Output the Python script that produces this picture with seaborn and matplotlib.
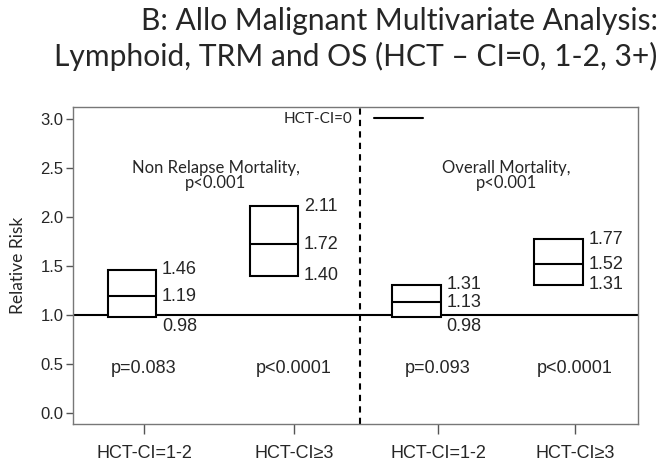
import numpy as np
import pandas as pd
import matplotlib
matplotlib.use('Agg')
import matplotlib.pyplot as plt
import seaborn as sns

# Relative risk (low CI, estimate, high CI) vs HCT-CI=0
groups = ['NRM 1-2', 'NRM 3+', 'OM 1-2', 'OM 3+']
rr_low = [0.98, 1.40, 0.98, 1.31]
rr_mid = [1.19, 1.72, 1.13, 1.52]
rr_high = [1.46, 2.11, 1.31, 1.77]
p_labels = ['p=0.083', 'p<0.0001', 'p=0.093', 'p<0.0001']
tick_labels = ['HCT-CI=1-2', 'HCT-CI\u22653', 'HCT-CI=1-2', 'HCT-CI\u22653']
panel_labels = ['Non Relapse Mortality,\np<0.001', 'Overall Mortality,\np<0.001']

# layout only (category units)
tick_pos = [0.084, 1.139, 2.152, 3.115]
panel_x = [0.59, 2.63]
split_x = 1.603

sns.set_style('ticks')
arial = ['Liberation Sans', 'DejaVu Sans']
calibri = ['Lato', 'DejaVu Sans']

# 5 points per group -> q1=low, median=mid, q3=high
rows = []
for g, lo, mid, hi in zip(groups, rr_low, rr_mid, rr_high):
    for v in [lo, lo, mid, hi, hi]:
        rows.append({'group': g, 'rr': v})
df = pd.DataFrame(rows)

fig = plt.figure(figsize=(6.71, 4.66), dpi=100)
ax = fig.add_axes([0.1088, 0.0901, 0.842, 0.6803])

ref = ax.axhline(1.0, color='black', lw=1.5, zorder=1, label='HCT-CI=0')
sns.boxplot(data=df, x='group', y='rr', order=groups, whis=0, width=0.34,
            color='white', linecolor='black', linewidth=1.5,
            showfliers=False, showcaps=False, ax=ax)
ax.axvline(split_x, color='black', lw=1.5, dashes=(3, 2.5))

for i in range(len(groups)):
    ax.text(i + 0.21, rr_high[i], f'{rr_high[i]:.2f}', ha='left', va='center', fontsize=13, family=arial)
    ax.text(i + 0.21, rr_mid[i], f'{rr_mid[i]:.2f}', ha='left', va='center', fontsize=13, family=arial)
    if rr_low[i] < 1.0:
        ax.text(i + 0.21, rr_low[i] - 0.01, f'{rr_low[i]:.2f}', ha='left', va='top', fontsize=13, family=arial)
    else:
        ax.text(i + 0.21, rr_low[i], f'{rr_low[i]:.2f}', ha='left', va='center', fontsize=13, family=arial)
    ax.text(tick_pos[i], 0.46, p_labels[i], ha='center', va='center', fontsize=13, family=arial)

for x, lab in zip(panel_x, panel_labels):
    ax.text(x, 2.42, lab, ha='center', va='center', fontsize=12, family=calibri, linespacing=0.95)

ax.set_xlim(-0.415, 3.558)
ax.set_ylim(-0.11, 3.12)
ax.set_yticks([0.0, 0.5, 1.0, 1.5, 2.0, 2.5, 3.0])
ax.set_yticklabels([f'{v:.1f}' for v in [0.0, 0.5, 1.0, 1.5, 2.0, 2.5, 3.0]], fontsize=12, family=arial)
ax.set_xticks(tick_pos)
ax.set_xticklabels(tick_labels, fontsize=13, family=arial)
ax.tick_params(axis='x', length=7, width=1, color='#555555', pad=8)
ax.tick_params(axis='y', length=5, width=1, color='#555555', pad=2)
ax.set_xlabel('')
ax.set_ylabel('Relative Risk', fontsize=12.5, family=calibri, labelpad=10)
for s in ax.spines.values():
    s.set_visible(True)
    s.set_color('#777777')
    s.set_linewidth(1)

ax.legend(handles=[ref], loc='center', bbox_to_anchor=(0.496, 0.962), frameon=False,
          markerfirst=False, handlelength=3.2, handletextpad=1.4,
          prop={'family': calibri, 'size': 11})

fig.text(0.980, 0.985, 'B: Allo Malignant Multivariate Analysis:\nLymphoid, TRM and OS (HCT \u2013 CI=0, 1-2, 3+)',
         ha='right', va='top', fontsize=21.6, family=calibri, linespacing=1.28, multialignment='right')

fig.savefig('out.png', dpi=100)
